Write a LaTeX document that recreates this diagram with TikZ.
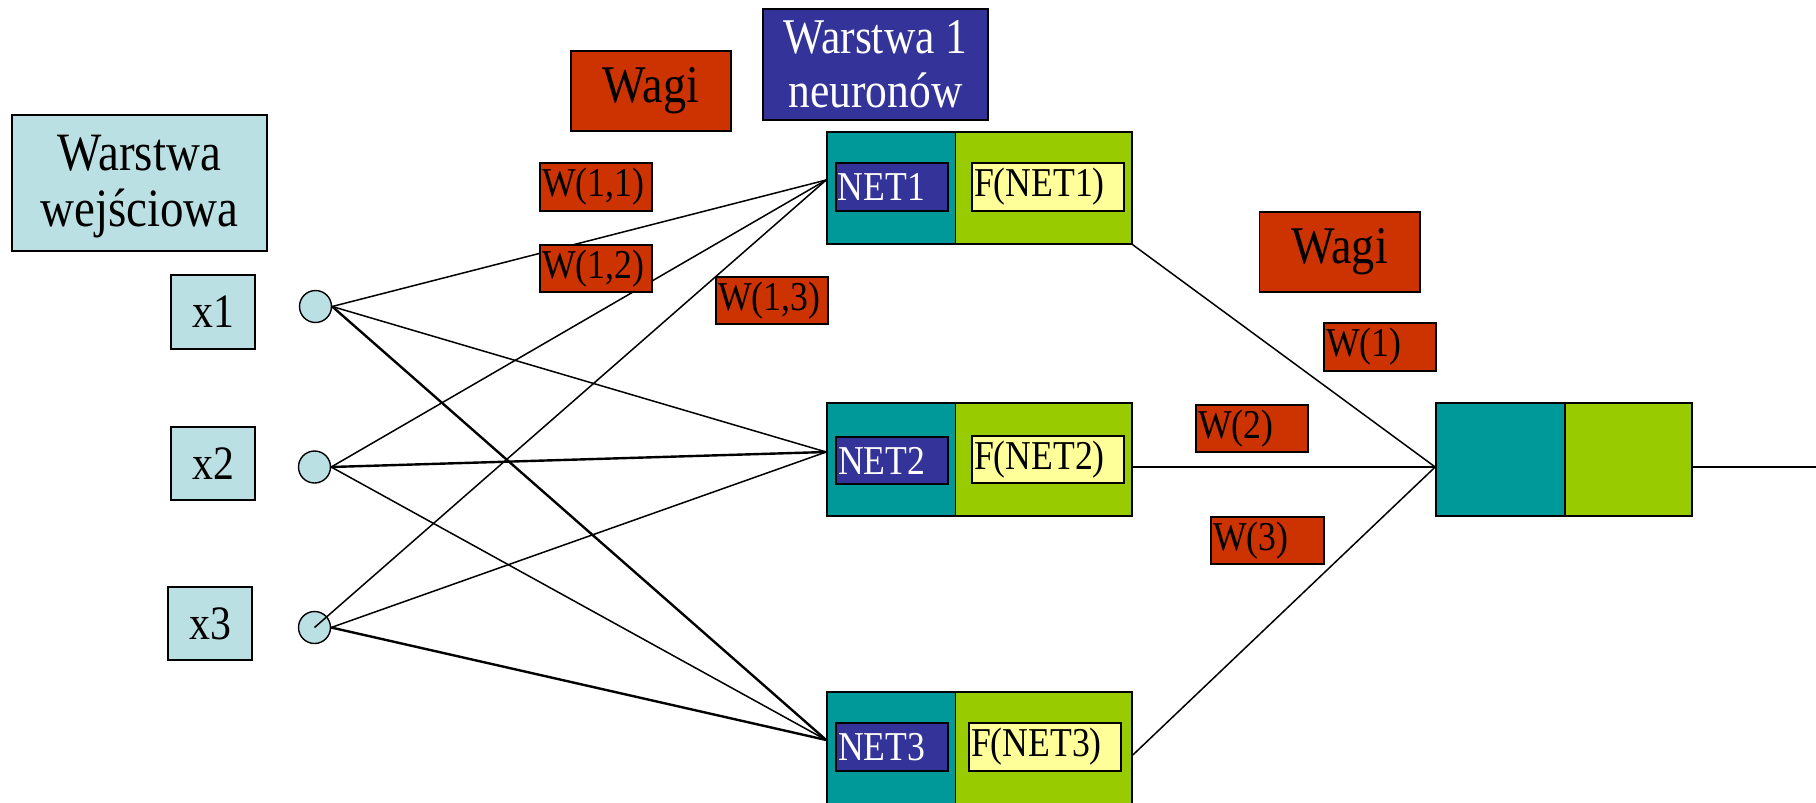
\documentclass[tikz,border=0pt]{standalone}
\usepackage{fontspec}
\setmainfont{Liberation Serif}[FakeStretch=0.87]
\definecolor{lblue}{HTML}{BBE0E3}
\definecolor{wred}{HTML}{CC3300}
\definecolor{dblue}{HTML}{333399}
\definecolor{tealc}{HTML}{009999}
\definecolor{lgreen}{HTML}{99CC00}
\definecolor{lyel}{HTML}{FFFF99}
\tikzset{
  bx/.style={draw=black, line width=1.6pt, inner sep=0pt, align=center},
  fs/.style={font=\fontsize{#1}{#1}\selectfont},
  lbox/.style={bx, fill=lblue},
  big/.style={bx, fill=wred, fs=53},
  wlab/.style={bx, fill=wred, fs=41, minimum width=#1, text width=#1-4pt, align=left, inner xsep=2pt, minimum height=48pt},
  netbox/.style={bx, fill=dblue, text=white, fs=41, minimum width=112pt, text width=108pt, align=left, inner xsep=2pt, minimum height=48pt},
  fbox/.style={bx, fill=lyel, fs=41, minimum width=152pt, text width=148pt, align=left, inner xsep=2pt, minimum height=48pt},
  tpart/.style={bx, fill=tealc, minimum width=128.5pt, minimum height=112pt},
  gpart/.style={bx, fill=lgreen, minimum width=176.5pt, minimum height=112pt},
  inc/.style={draw=black, line width=1.4pt, fill=lblue, circle, minimum size=32pt, inner sep=0pt},
  thin/.style={line width=1.5pt},
  thick2/.style={line width=2.4pt},
}
\begin{document}
\begin{tikzpicture}[x=1pt,y=-1pt]
\clip (0,0) rectangle (1816,803);
\fill[white] (0,0) rectangle (1816,803);
% input circles
\node[inc] (c1) at (315.5,306.5) {};
\node[inc] (c2) at (314.5,467) {};
\node[inc] (c3) at (314.5,627.5) {};
% hidden neurons
\node[tpart] (na1) at (891.25,188) {};
\node[gpart] (ng1) at (1043.75,188) {};
\node[tpart, minimum height=113pt] (na2) at (891.25,459.5) {};
\node[gpart, minimum height=113pt] (ng2) at (1043.75,459.5) {};
\node[tpart, minimum height=113pt] (na3) at (891.25,748.5) {};
\node[gpart, minimum height=113pt] (ng3) at (1043.75,748.5) {};
\node[netbox] (net1) at (891.8,187) {NET1};
\node[netbox, minimum height=47pt] (net2) at (892,460.5) {NET2};
\node[netbox] (net3) at (892,747) {NET3};
\node[fbox] (f1) at (1048,187) {F(NET1)};
\node[fbox, minimum height=47pt] (f2) at (1048,459.5) {F(NET2)};
\node[fbox] (f3) at (1045,747) {F(NET3)};
% output neuron
\node[bx, fill=tealc, minimum width=129pt, minimum height=113pt] (oa) at (1500.5,459.5) {};
\node[bx, fill=lgreen, minimum width=127pt, minimum height=113pt] (og) at (1628.5,459.5) {};
\coordinate (oend) at (1816,467);
% connectors input -> hidden
\draw[thin] (c1.east) -- ([yshift=8pt]na1.west);
\draw[thin] (c1.east) -- ([yshift=7.5pt]na2.west);
\draw[thick2] (c1.east) -- ([yshift=8.5pt]na3.west);
\draw[thin] (c2.east) -- ([yshift=8pt]na1.west);
\draw[thick2] (c2.east) -- ([yshift=7.5pt]na2.west);
\draw[thin] (c2.east) -- ([yshift=8.5pt]na3.west);
\draw[thin] (c3.center) -- ([yshift=8pt]na1.west);
\draw[thin] (c3.east) -- ([yshift=7.5pt]na2.west);
\draw[thick2] (c3.east) -- ([yshift=8.5pt]na3.west);
% hidden -> output
\draw[thin] (ng1.south east) -- ([yshift=-7.5pt]oa.west);
\draw[thick2] ([yshift=-7.5pt]ng2.east) -- ([yshift=-7.5pt]oa.west);
\draw[thin] ([yshift=-6.5pt]ng3.east) -- ([yshift=-7.5pt]oa.west);
\draw[thick2] ([yshift=-7.5pt]og.east) -- (oend);
% labels
\node[lbox, font=\fontsize{54}{56}\selectfont, minimum width=255pt, minimum height=136pt] (inl) at (139.5,183) {};
\node[font=\fontsize{54}{56}\selectfont, align=center, inner sep=0pt] (inlt) at (139.5,187) {Warstwa\\wejściowa};
\node[big, minimum width=160pt, minimum height=80pt] (wagiA) at (651,91) {Wagi};
\node[bx, fill=dblue, text=white, font=\fontsize{50}{54}\selectfont, minimum width=225pt, minimum height=111pt] (war1) at (875.5,64.5)
  {Warstwa 1\\neuronów};
\node[big, minimum width=160.5pt, minimum height=80pt] (wagiB) at (1339.75,252) {Wagi};
\node[wlab=112pt] (w11) at (596,187) {W(1,1)};
\node[wlab=112pt, minimum height=47pt] (w12) at (596,268.5) {W(1,2)};
\node[wlab=112pt, minimum height=47pt] (w13) at (772,300.5) {W(1,3)};
\node[wlab=112pt] (w1) at (1380,347) {W(1)};
\node[wlab=112pt, minimum height=47pt] (w2) at (1252,428.5) {W(2)};
\node[wlab=113pt, minimum height=47pt] (w3) at (1267.5,540.5) {W(3)};
% inputs
\node[lbox, fs=48, minimum width=84pt, minimum height=74pt] (x1) at (213,312) {x1};
\node[lbox, fs=48, minimum width=84pt, minimum height=73pt] (x2) at (213,463.5) {x2};
\node[lbox, fs=48, minimum width=84pt, minimum height=73pt] (x3) at (210,623.5) {x3};
\end{tikzpicture}
\end{document}
